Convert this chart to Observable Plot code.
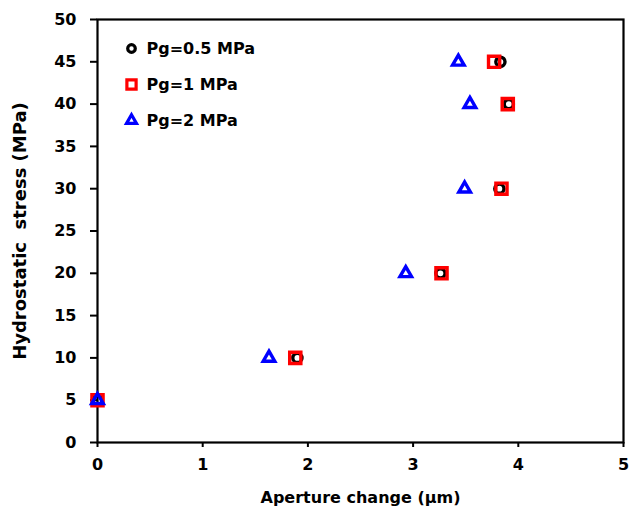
<!DOCTYPE html>
<html>
<head>
<meta charset="utf-8">
<script src="https://cdn.jsdelivr.net/npm/d3@7"></script>
<script src="https://cdn.jsdelivr.net/npm/@observablehq/plot@0.6"></script>
<style>
  html, body { margin: 0; padding: 0; background: #fff; }
  #chart svg { display: block; }
  #chart text { white-space: pre; }
</style>
</head>
<body>
<div id="chart"></div>
<script>
// Hydrostatic stress levels (MPa)
const stress = [5, 10, 20, 30, 40, 45];
// Aperture change (µm) for each gas pressure
const aperturePg05 = [0, 1.90, 3.26, 3.82, 3.91, 3.83];
const aperturePg1  = [0, 1.88, 3.27, 3.84, 3.90, 3.77];
const aperturePg2  = [0, 1.63, 2.93, 3.49, 3.54, 3.43];

const seriesNames = ["Pg=0.5 MPa", "Pg=1 MPa", "Pg=2 MPa"];
const seriesColors = ["#000000", "#ff0000", "#0000ff"];
const seriesSymbols = ["circle", "square", "triangle"];
const xTicks = [0, 1, 2, 3, 4, 5];
const yTicks = [0, 5, 10, 15, 20, 25, 30, 35, 40, 45, 50];
const xLabel = "Aperture change (\u00b5m)";
const yLabel = "Hydrostatic  stress (MPa)";

const seriesX = [aperturePg05, aperturePg1, aperturePg2];
const rows = [];
seriesX.forEach((arr, s) => arr.forEach((x, i) => rows.push({series: s, x, y: stress[i]})));
const sizes = [4.6, 6.3, 4.3];
const legendSizes = [3.8, 5.2, 3.7];

const font = "'DejaVu Sans', sans-serif";
const legendRows = seriesNames.map((name, i) => ({i, name}));
const fmt = d3.format("d");

const chart = Plot.plot({
  width: 630,
  height: 518,
  marginLeft: 97,
  marginRight: 7,
  marginTop: 19,
  marginBottom: 76,
  style: {fontFamily: font, fontSize: "16px", fontWeight: "bold", color: "#000", background: "#fff", overflow: "visible"},
  x: {domain: [0, 5]},
  y: {domain: [0, 50]},
  marks: [
    Plot.axisX({ticks: xTicks, tickFormat: fmt, tickSize: 5, tickPadding: 11, strokeWidth: 2, label: null, fontSize: 16, fontWeight: "bold"}),
    Plot.axisY({ticks: yTicks, tickFormat: fmt, tickSize: 7, tickPadding: 14, strokeWidth: 2, label: null, fontSize: 16, fontWeight: "bold"}),
    Plot.frame({stroke: "#000", strokeWidth: 2.2}),
    ...[0, 1, 2].map(s => Plot.dot(rows.filter(d => d.series === s), {
      x: "x", y: "y",
      symbol: () => seriesSymbols[s],
      r: sizes[s],
      stroke: seriesColors[s],
      strokeWidth: 3.4,
      fill: "none"
    })),
    // legend
    ...legendRows.map(d => Plot.dot([d], {
      frameAnchor: "top-left", dx: 34, dy: 29 + 36 * d.i,
      symbol: () => seriesSymbols[d.i], r: legendSizes[d.i],
      stroke: seriesColors[d.i], strokeWidth: 3.2, fill: "none"
    })),
    ...legendRows.map(d => Plot.text([d], {
      frameAnchor: "top-left", dx: 49, dy: 29 + 36 * d.i,
      text: "name", textAnchor: "start", lineAnchor: "middle",
      fontSize: 16, fontWeight: "bold", fill: "#000"
    })),
    // axis titles
    Plot.text([yLabel], {
      frameAnchor: "left", dx: -77, rotate: -90, text: d => d, textAnchor: "middle",
      fontSize: 18, fontWeight: "bold", lineAnchor: "middle", fill: "#000"
    }),
    Plot.text([xLabel], {
      frameAnchor: "bottom", dy: 55, text: d => d, textAnchor: "middle",
      fontSize: 16, fontWeight: "bold", lineAnchor: "middle", fill: "#000"
    })
  ]
});
document.getElementById("chart").appendChild(chart);
</script>
</body>
</html>
